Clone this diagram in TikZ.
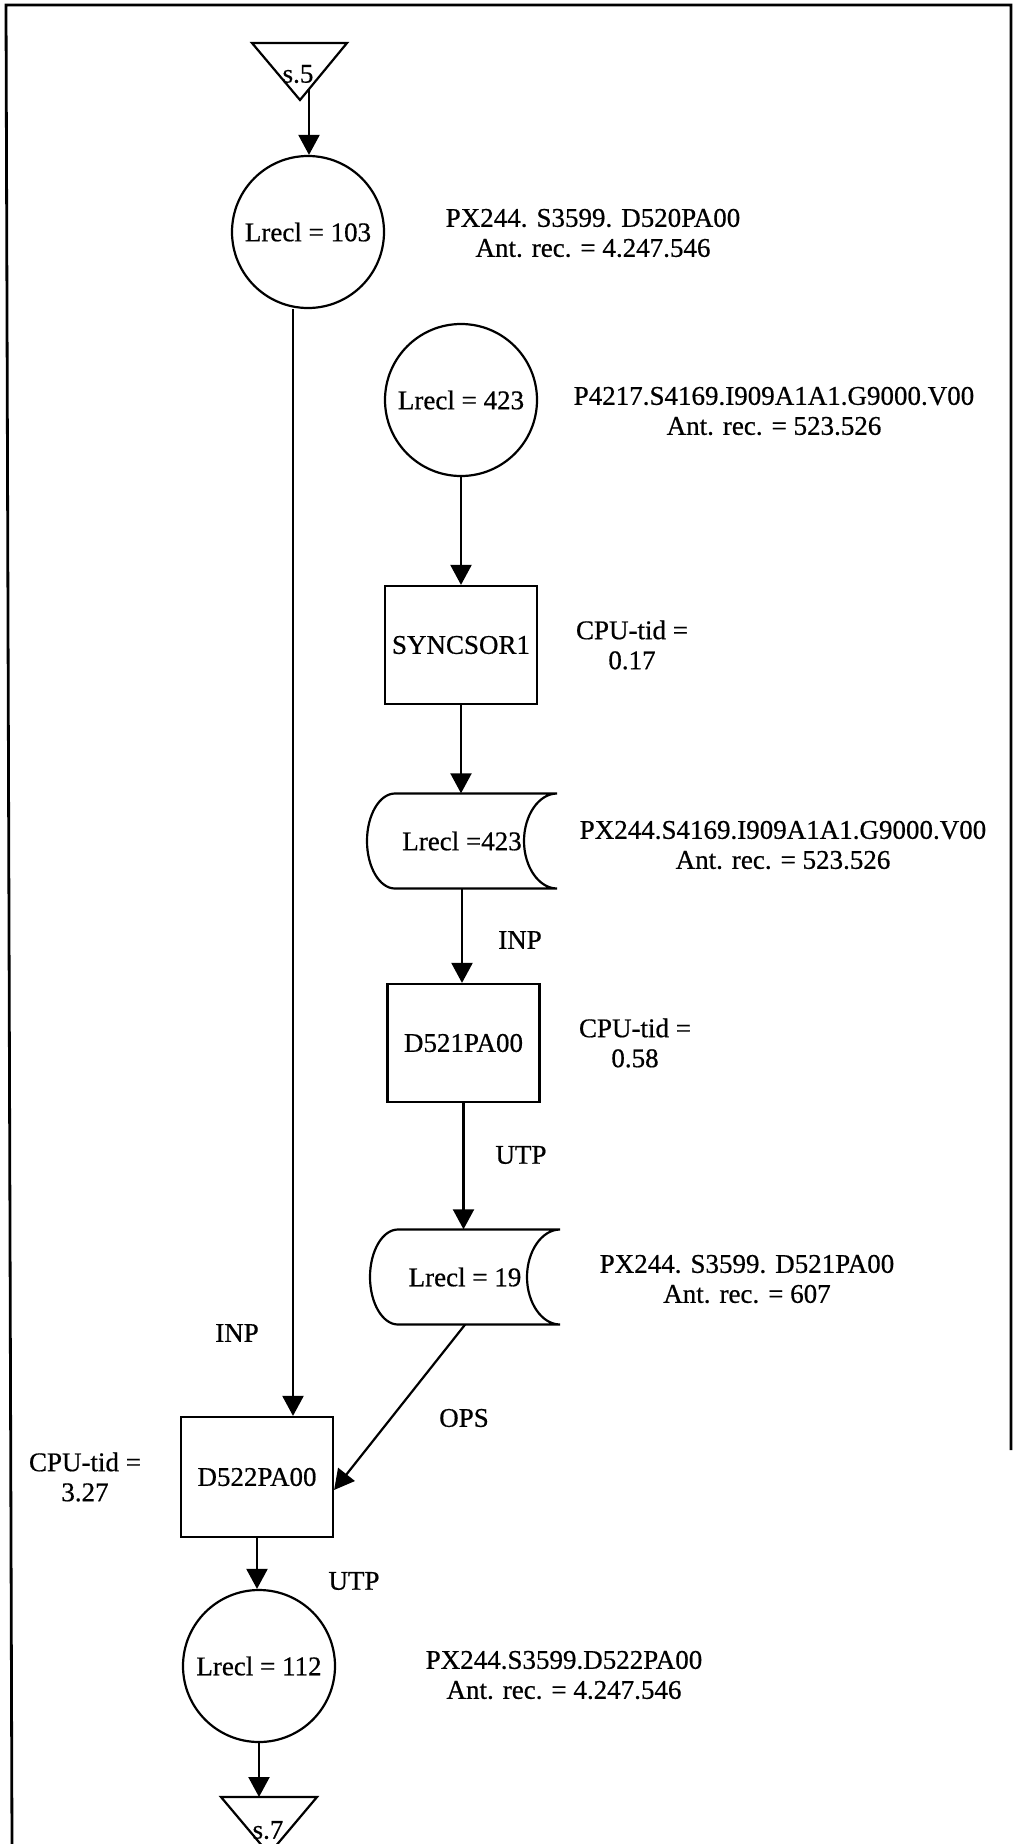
\documentclass[tikz,border=0pt]{standalone}
\usepackage{fontspec}
\setmainfont{Liberation Serif}
\newfontfamily\scanfont{Liberation Serif}[FakeBold=0.6]
\usetikzlibrary{arrows.meta,calc}
\newcommand\storpath[2]{%
 \draw[ln] (#1+95,#2-47.5) .. controls (#1+77,#2-47.5) and (#1+62,#2-26) .. (#1+62,#2)
   .. controls (#1+62,#2+26) and (#1+77,#2+47.5) .. (#1+95,#2+47.5)
   -- (#1-67,#2+47.5) .. controls (#1-82.5,#2+47.5) and (#1-95,#2+26) .. (#1-95,#2)
   .. controls (#1-95,#2-26) and (#1-82.5,#2-47.5) .. (#1-67,#2-47.5) -- cycle;}
\tikzset{
 ln/.style={line width=2.2pt},
 arr/.style={ln, -{Triangle[width=21pt,length=20pt]}},
 circ/.style={circle, draw, ln, minimum size=152pt, inner sep=0pt},
 proc/.style={rectangle, draw, ln, minimum width=152pt, minimum height=118pt, inner sep=0pt},
 stor/.style={rectangle, minimum width=190pt, minimum height=95pt, inner sep=0pt},
 lbl/.style={align=center, inner sep=0pt},
}
\begin{document}
\begin{tikzpicture}[x=1pt,y=-1pt, every node/.style={font=\scanfont\fontsize{27}{30}\selectfont}]
\useasboundingbox (0,0) rectangle (1013,1844);
% frame
\draw[line width=2.8pt] (12,1844) -- (6,5) -- (1011,5) -- (1011,1450);
% off-page connector s.5
\draw[ln] (252,43) -- (347,43) -- (300,100) -- cycle;
\node[inner sep=0pt] (s5) at (298,74) {s.5};
\coordinate (s5out) at (309,89);
% nodes
\node[circ] (c103) at (308,232) {Lrecl = 103};
\node[circ] (c423) at (461,400) {Lrecl = 423};
\node[proc] (sync) at (461,645) {SYNCSOR1};
\node[stor] (st423) at (462,841) {Lrecl =423};
\storpath{462}{841}
\node[proc] (d521) at (463.5,1043) {D521PA00};
\node[stor] (st19) at (465,1277) {Lrecl = 19};
\storpath{465}{1277}
\node[proc, minimum height=120pt] (d522) at (257,1477) {D522PA00};
\node[circ] (c112) at (259,1666) {Lrecl = 112};
% off-page connector s.7
\draw[ln] (221,1797) -- (317,1797) -- (269,1854) -- cycle;
\coordinate (s7top) at (269,1797);
\node[inner sep=0pt] (s7) at (268,1830) {s.7};
% labels
\node[lbl] (t103) at (593,233) {PX244. S3599. D520PA00\\Ant. rec. = 4.247.546};
\node[lbl] (t423) at (774,411) {P4217.S4169.I909A1A1.G9000.V00\\Ant. rec. = 523.526};
\node[lbl] (cpu1) at (632,645) {CPU-tid =\\0.17};
\node[lbl] (ts423) at (783,845) {PX244.S4169.I909A1A1.G9000.V00\\Ant. rec. = 523.526};
\node (inp1) at (520,940) {INP};
\node[lbl] (cpu2) at (635,1043) {CPU-tid =\\0.58};
\node (utp1) at (521,1155) {UTP};
\node[lbl] (ts19) at (747,1279) {PX244. S3599. D521PA00\\Ant. rec. = 607};
\node (inp2) at (237,1333) {INP};
\node (ops) at (464,1418) {OPS};
\node[lbl] (cpu3) at (85,1477) {CPU-tid =\\3.27};
\node (utp2) at (354,1581) {UTP};
\node[lbl] (t112) at (564,1675) {PX244.S3599.D522PA00\\Ant. rec. = 4.247.546};
% connectors
\draw[arr] (s5out) -- (s5out |- c103.north);
\draw[arr] ([xshift=-15pt]c103.south) -- ([xshift=-15pt]c103.south |- d522.north);
\draw[arr] (c423) -- (sync);
\draw[arr] (sync.south) -- (sync.south |- st423.north);
\draw[arr] (st423.south) -- (st423.south |- d521.north);
\draw[arr] (d521.south) -- (d521.south |- st19.north);
\draw[arr] (st19.south) -- ([yshift=-13pt]d522.east);
\draw[arr] (d522.south) -- (d522.south |- c112.north);
\draw[arr] (c112.south) -- (c112.south |- s7top);
\end{tikzpicture}
\end{document}
